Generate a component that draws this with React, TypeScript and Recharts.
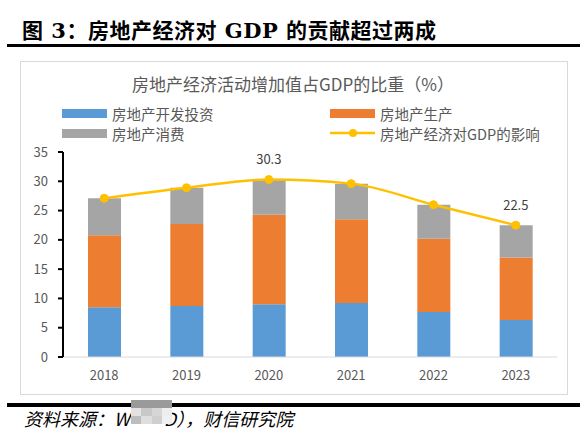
import React from "react";
import { ComposedChart, Bar, Line, XAxis, YAxis, LabelList } from "recharts";

const years = ["2018", "2019", "2020", "2021", "2022", "2023"];
const investment = [8.5, 8.7, 9.0, 9.2, 7.7, 6.3];
const production = [12.3, 14.0, 15.3, 14.3, 12.5, 10.7];
const consumption = [6.3, 6.2, 6.0, 6.1, 5.8, 5.5];
const gdpShare = [27.1, 28.9, 30.3, 29.6, 26.0, 22.5];
const yTicks = [0, 5, 10, 15, 20, 25, 30, 35];
const labelledYears = ["2020", "2023"];

const data = years.map((year, i) => ({
  year,
  investment: investment[i],
  production: production[i],
  consumption: consumption[i],
  gdpShare: gdpShare[i],
}));

const CJK = '"Noto Sans CJK SC", "Microsoft YaHei", sans-serif';
const GRAY = "#595959";

const LineLabel = (props: any) => {
  const { x, y, value, index } = props;
  if (!labelledYears.includes(years[index])) return null;
  return (
    <text x={x} y={y - 21} textAnchor="middle" dominantBaseline="central" fill="#404040" fontSize={13} fontFamily={CJK}>
      {value}
    </text>
  );
};

const LegendItem = ({ color, label, line, left, top }: any) => (
  <div style={{ position: "absolute", left, top, display: "flex", alignItems: "center", height: 18 }}>
    {line ? (
      <svg width={45} height={12}>
        <line x1={0} y1={6} x2={45} y2={6} stroke={color} strokeWidth={2.5} />
        <circle cx={23} cy={6} r={4} fill={color} />
      </svg>
    ) : (
      <div style={{ width: 45, height: 9, background: color }} />
    )}
    <span style={{ marginLeft: 5, fontSize: 14.5, color: GRAY, fontFamily: CJK, whiteSpace: "nowrap" }}>{label}</span>
  </div>
);

const App = () => {
  return (
    <div style={{ position: "absolute", left: 0, top: 0, width: 586, height: 441, background: "#fff", overflow: "hidden" }}>
      <div
        style={{
          position: "absolute",
          left: 22,
          top: 14,
          fontSize: 21,
          fontWeight: "bold",
          fontFamily: '"DejaVu Serif", "Noto Sans CJK SC", serif',
          color: "#000",
          whiteSpace: "nowrap",
          letterSpacing: 0.5,
        }}
      >
        图 3：房地产经济对 GDP 的贡献超过两成
      </div>
      <div style={{ position: "absolute", left: 7, top: 44, width: 573, height: 3, background: "#000" }} />

      <div
        style={{
          position: "absolute",
          left: 20,
          top: 61,
          width: 546,
          height: 332,
          border: "1.5px solid #d9d9d9",
        }}
      />
      <div
        style={{
          position: "absolute",
          left: 0,
          width: 586,
          top: 71,
          textAlign: "center",
          fontSize: 17,
          color: GRAY,
          fontFamily: CJK,
        }}
      >
        房地产经济活动增加值占GDP的比重（%）
      </div>
      <LegendItem color="#5B9BD5" label="房地产开发投资" left={62} top={104} />
      <LegendItem color="#ED7D31" label="房地产生产" left={330} top={104} />
      <LegendItem color="#A5A5A5" label="房地产消费" left={62} top={124} />
      <LegendItem color="#FFC000" label="房地产经济对GDP的影响" left={330} top={124} line />

      <div style={{ position: "absolute", left: 0, top: 0 }}>
        <ComposedChart
          width={586}
          height={441}
          data={data}
          margin={{ top: 152, right: 29, bottom: 54, left: 13 }}
          barCategoryGap="30%"
        >
          <XAxis
            dataKey="year"
            axisLine={{ stroke: "#d9d9d9", strokeWidth: 1 }}
            tickLine={false}
            tickSize={0}
            tickMargin={14}
            height={30}
            tick={{ fill: GRAY, fontSize: 13, fontFamily: CJK }}
          />
          <YAxis
            domain={[0, 35]}
            ticks={yTicks}
            width={50}
            interval={0}
            axisLine={{ stroke: "#000", strokeWidth: 2 }}
            tickLine={{ stroke: "#000", strokeWidth: 2 }}
            tickSize={5}
            tickMargin={10}
            tick={{ fill: GRAY, fontSize: 13, fontFamily: CJK }}
          />
          <Bar dataKey="investment" stackId="a" fill="#5B9BD5" barSize={33} isAnimationActive={false} />
          <Bar dataKey="production" stackId="a" fill="#ED7D31" barSize={33} isAnimationActive={false} />
          <Bar dataKey="consumption" stackId="a" fill="#A5A5A5" barSize={33} isAnimationActive={false} />
          <Line
            dataKey="gdpShare"
            type="monotone"
            stroke="#FFC000"
            strokeWidth={2.5}
            dot={{ r: 4, fill: "#FFC000", stroke: "#FFC000", strokeWidth: 1 }}
            isAnimationActive={false}
          >
            <LabelList dataKey="gdpShare" content={LineLabel} />
          </Line>
        </ComposedChart>
      </div>

      <div style={{ position: "absolute", left: 7, top: 403, width: 573, height: 4, background: "#000" }} />
      <div
        style={{
          position: "absolute",
          left: 24,
          top: 405,
          fontSize: 18,
          fontStyle: "italic",
          fontFamily: CJK,
          color: "#000",
          whiteSpace: "nowrap",
        }}
      >
        资料来源：W<span style={{ display: "inline-block", width: 34 }} />D），财信研究院
      </div>
      <div style={{ position: "absolute", left: 131, top: 400, width: 41, height: 8, background: "#9a9a9a" }} />
      <div style={{ position: "absolute", left: 131, top: 408, width: 41, height: 16, display: "flex", flexWrap: "wrap" }}>
        {["#e2e2e2", "#c8c8c8", "#d6d6d6", "#eeeeee", "#bdbdbd", "#dedede", "#cfcfcf", "#f0f0f0"].map((c, i) => (
          <div key={i} style={{ width: 10.25, height: 8, background: c }} />
        ))}
      </div>
    </div>
  );
};

export default App;
